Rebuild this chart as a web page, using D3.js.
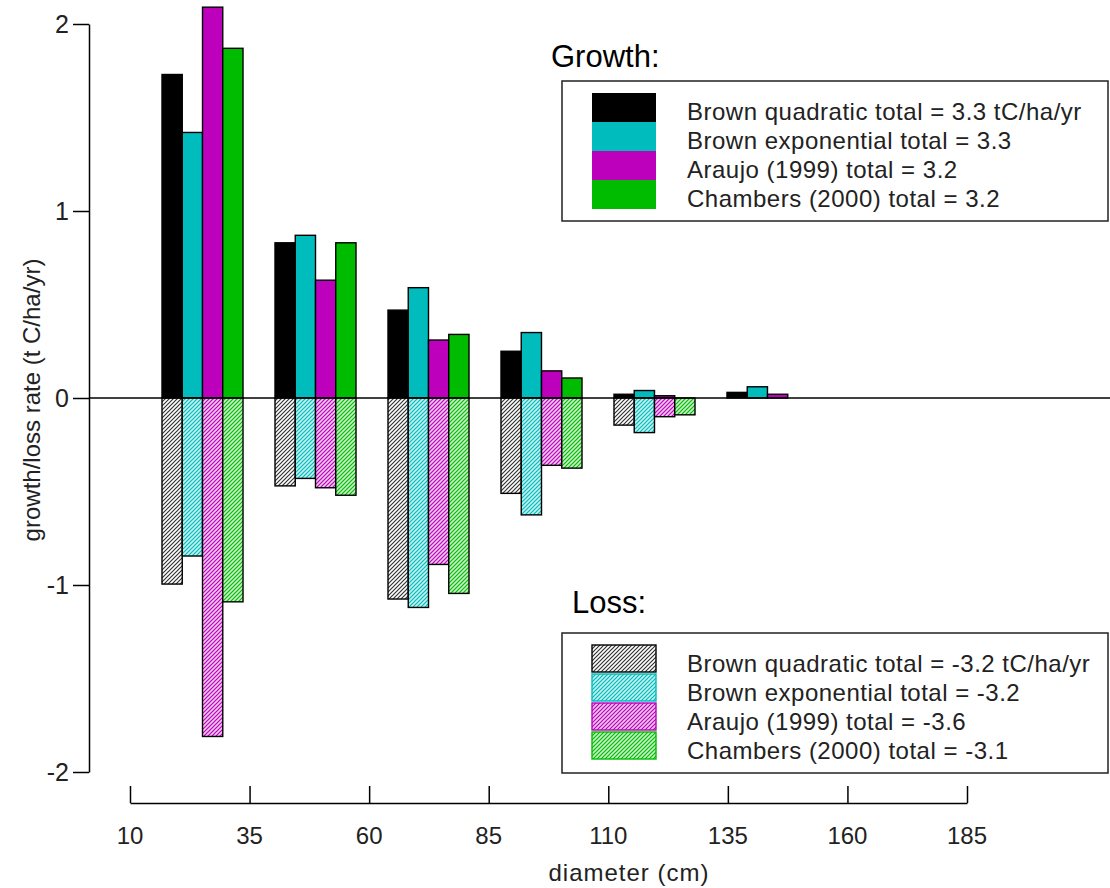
<!DOCTYPE html>
<html>
<head>
<meta charset="utf-8">
<script src="https://cdn.jsdelivr.net/npm/d3@7"></script>
<style>
  body { margin: 0; background: #fff; }
  svg { display: block; font-family: "Liberation Sans", Arial, sans-serif; }
</style>
</head>
<body>
<div class="chart"></div>
<script>
// diameter classes (cm) and the four allometric models
const diameterClasses = ["10-35", "35-60", "60-85", "85-110", "110-135", "135-160"];
const seriesNames = ["Brown quadratic", "Brown exponential", "Araujo (1999)", "Chambers (2000)"];
const seriesColors = ["#000000", "#00bcbc", "#bc00bc", "#00bc00"];
const hatchBackgrounds = ["#ffffff", "#c4f0f0", "#f0c8f0", "#c8f0c8"];

// growth (positive) per class, one array per model
const growthQuadratic = [1.73, 0.83, 0.47, 0.25, 0.02, 0.03];
const growthExponential = [1.42, 0.87, 0.59, 0.35, 0.04, 0.06];
const growthAraujo = [2.09, 0.63, 0.31, 0.145, 0.012, 0.02];
const growthChambers = [1.87, 0.83, 0.34, 0.107, 0, 0];

// loss (negative) per class
const lossQuadratic = [-0.995, -0.47, -1.075, -0.51, -0.145, 0];
const lossExponential = [-0.845, -0.43, -1.12, -0.625, -0.185, 0];
const lossAraujo = [-1.81, -0.48, -0.89, -0.36, -0.10, 0];
const lossChambers = [-1.09, -0.52, -1.045, -0.375, -0.09, 0];

const growthLegend = ["Brown quadratic total = 3.3 tC/ha/yr", "Brown exponential total = 3.3",
  "Araujo (1999) total = 3.2", "Chambers (2000) total = 3.2"];
const lossLegend = ["Brown quadratic total = -3.2 tC/ha/yr", "Brown exponential total = -3.2",
  "Araujo (1999) total = -3.6", "Chambers (2000) total = -3.1"];

const xTicks = [10, 35, 60, 85, 110, 135, 160, 185];
const yTicks = [-2, -1, 0, 1, 2];

const growth = [growthQuadratic, growthExponential, growthAraujo, growthChambers];
const loss = [lossQuadratic, lossExponential, lossAraujo, lossChambers];

const width = 1110, height = 888;

const svg = d3.select(".chart")
  .append("svg")
  .attr("width", width)
  .attr("height", height);

// hatch patterns for the loss bars
const defs = svg.append("defs");
seriesNames.forEach((name, i) => {
  const p = defs.append("pattern")
    .attr("id", "hatch" + i)
    .attr("patternUnits", "userSpaceOnUse")
    .attr("width", 4)
    .attr("height", 4);
  p.append("rect").attr("width", 4).attr("height", 4).attr("fill", hatchBackgrounds[i]);
  p.append("path")
    .attr("d", "M0,4 L4,0 M-1,1 L1,-1 M3,5 L5,3")
    .attr("stroke", i === 0 ? "#333" : seriesColors[i])
    .attr("stroke-width", 1.2);
});

// scales
const y = d3.scaleLinear().domain([-2, 2]).range([772, 24]);
const x = d3.scaleLinear().domain([10, 185]).range([130, 967]);

const xGroup = d3.scaleBand()
  .domain(diameterClasses)
  .range([162, 808])
  .paddingInner(0.283)
  .paddingOuter(0);

const xSeries = d3.scaleBand()
  .domain(d3.range(seriesNames.length))
  .range([0, xGroup.bandwidth()]);

// bars
const rows = [];
diameterClasses.forEach((c, ci) => {
  seriesNames.forEach((s, si) => {
    rows.push({ cls: c, s: si, value: growth[si][ci], kind: "growth" });
    rows.push({ cls: c, s: si, value: loss[si][ci], kind: "loss" });
  });
});

svg.append("g")
  .selectAll("rect")
  .data(rows.filter(d => d.value !== 0))
  .join("rect")
  .attr("x", d => xGroup(d.cls) + xSeries(d.s))
  .attr("width", xSeries.bandwidth())
  .attr("y", d => y(Math.max(0, d.value)))
  .attr("height", d => Math.abs(y(d.value) - y(0)))
  .attr("fill", d => d.kind === "growth" ? seriesColors[d.s] : `url(#hatch${d.s})`)
  .attr("stroke", "#000")
  .attr("stroke-width", 1.4);

// zero line
svg.append("line")
  .attr("x1", 89).attr("x2", width)
  .attr("y1", y(0)).attr("y2", y(0))
  .attr("stroke", "#000")
  .attr("stroke-width", 1.5);

// y axis
const yAxis = svg.append("g")
  .attr("transform", "translate(89,0)")
  .call(d3.axisLeft(y).tickValues(yTicks).tickSize(16).tickSizeOuter(0).tickPadding(4).tickFormat(d3.format("d")));
yAxis.select(".domain").attr("stroke-width", 1.5);
yAxis.selectAll(".tick line").attr("stroke-width", 1.5);
yAxis.selectAll("text")
  .attr("font-size", 25)
  .attr("font-family", "Liberation Sans, Arial, sans-serif")
  .attr("fill", "#222")
  .text(d => d < 0 ? "-" + Math.abs(d) : d);

// x axis (ticks point up)
const xAxis = svg.append("g")
  .attr("transform", "translate(0,803)")
  .call(d3.axisTop(x).tickValues(xTicks).tickSize(17).tickSizeOuter(0).tickFormat(""));
xAxis.select(".domain").attr("stroke-width", 1.5);
xAxis.selectAll(".tick line").attr("stroke-width", 1.5);

svg.append("g")
  .selectAll("text")
  .data(xTicks)
  .join("text")
  .attr("x", d => x(d))
  .attr("y", 844)
  .attr("text-anchor", "middle")
  .attr("font-size", 24)
  .attr("fill", "#222")
  .text(d => d);

// axis titles
svg.append("text")
  .attr("x", 629)
  .attr("y", 881)
  .attr("text-anchor", "middle")
  .attr("font-size", 24)
  .attr("letter-spacing", 1)
  .attr("fill", "#222")
  .text("diameter (cm)");

svg.append("text")
  .attr("transform", "translate(40,400) rotate(-90)")
  .attr("text-anchor", "middle")
  .attr("font-size", 24)
  .attr("fill", "#222")
  .text("growth/loss rate (t C/ha/yr)");

// legends
function legend(title, titleX, titleY, boxTop, labels, hatched) {
  svg.append("text")
    .attr("x", titleX)
    .attr("y", titleY)
    .attr("font-size", 31)
    .attr("fill", "#000")
    .text(title);

  svg.append("rect")
    .attr("x", 562)
    .attr("y", boxTop)
    .attr("width", 546)
    .attr("height", 140)
    .attr("fill", "#fff")
    .attr("stroke", "#222")
    .attr("stroke-width", 1.5);

  const item = svg.append("g")
    .selectAll("g")
    .data(labels)
    .join("g")
    .attr("transform", (d, i) => `translate(0,${boxTop + 12 + i * 29})`);

  item.append("rect")
    .attr("x", 592)
    .attr("width", 64)
    .attr("height", hatched ? 27 : 29)
    .attr("fill", (d, i) => hatched ? `url(#hatch${i})` : seriesColors[i])
    .attr("stroke", (d, i) => hatched ? seriesColors[i] : "none")
    .attr("stroke-width", 1.4);

  item.append("text")
    .attr("x", 687)
    .attr("y", 27)
    .attr("font-size", 24)
    .attr("letter-spacing", 0.5)
    .attr("fill", "#222")
    .text(d => d);
}

legend("Growth:", 551, 67, 81, growthLegend, false);
legend("Loss:", 572, 613, 633, lossLegend, true);
</script>
</body>
</html>
